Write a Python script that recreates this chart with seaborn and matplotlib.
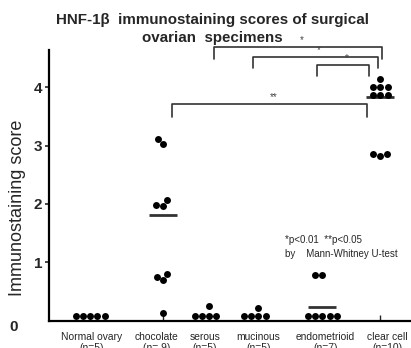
import numpy as np
import pandas as pd
import matplotlib
matplotlib.use("Agg")
import matplotlib.pyplot as plt
import matplotlib.transforms as mtransforms
import seaborn as sns

# groups and their scores
groups = ["Normal ovary", "chocolate", "serous", "mucinous", "endometrioid", "clear cell"]
n_labels = ["(n=5)", "(n= 9)", "(n=5)", "(n=5)", "(n=7)", "(n=10)"]
normal = [0.07, 0.07, 0.07, 0.07, 0.07]
chocolate = [3.11, 3.03, 2.07, 1.98, 1.97, 0.80, 0.75, 0.70, 0.13]
serous = [0.08, 0.08, 0.08, 0.08, 0.25]
mucinous = [0.08, 0.08, 0.08, 0.08, 0.21]
endometrioid = [0.07, 0.07, 0.07, 0.07, 0.07, 0.78, 0.78]
clear_cell = [4.14, 4.0, 4.0, 4.0, 3.87, 3.87, 3.87, 2.85, 2.85, 2.83]
# horizontal bars drawn in the original
bar_groups = ["chocolate", "endometrioid", "clear cell"]
bar_values = [1.81, 0.23, 3.83]
# significance brackets: (left group, right group, label)
comparisons = [("serous", "clear cell", "*"),
               ("mucinous", "clear cell", "*"),
               ("endometrioid", "clear cell", "*"),
               ("chocolate", "clear cell", "**")]

# layout
group_x = [0, 1.26, 2.05, 2.9, 4.0, 5.0]
label_x = [0.03, 1.14, 1.98, 2.9, 4.05, 5.12]
bracket_top = [4.69, 4.52, 4.38, 3.71]
bracket_leg = [0.21, 0.19, 0.19, 0.21]
bracket_shift = [(0.09, 0.03), (-0.1, -0.04), (-0.09, -0.19), (0.15, -0.22)]

scores = [normal, chocolate, serous, mucinous, endometrioid, clear_cell]
rows = []
for g, x, vals in zip(groups, group_x, scores):
    for v in vals:
        rows.append({"group": g, "x": x, "score": v})
df = pd.DataFrame(rows)
pos = dict(zip(groups, group_x))

sns.set_style("ticks")
plt.rcParams["font.family"] = ["Liberation Sans", "DejaVu Sans"]

fig = plt.figure(figsize=(4.11, 3.48), dpi=100)
ax = fig.add_axes([0.1192, 0.079, 0.8808, 0.777])

sns.swarmplot(data=df, x="x", y="score", native_scale=True, orient="x",
              color="black", size=5, linewidth=0, ax=ax, warn_thresh=1)

for g, m in zip(bar_groups, bar_values):
    ax.hlines(m, pos[g] - 0.24, pos[g] + 0.24, color="#333333", lw=2)

# brackets
for (a, b, lab), top, leg, (da, db) in zip(comparisons, bracket_top, bracket_leg, bracket_shift):
    xa, xb = pos[a] + da, pos[b] + db
    ax.plot([xa, xa, xb, xb], [top - leg, top, top, top - leg],
            color="#333333", lw=1.2, clip_on=False)
    ax.text((xa + xb) / 2 + 0.06, top + 0.03, lab, ha="center", va="bottom",
            fontsize=7, color="#444444", clip_on=False)

ax.set_xlim(-0.71, 5.53)
ax.set_ylim(0, 4.64)

ax.set_xticks(label_x)
ax.set_xticklabels([f"{g}\n{n}" for g, n in zip(groups, n_labels)], fontsize=7.4)
ax.tick_params(axis="x", length=0, pad=8)
ax.set_xticks(group_x, minor=True)
ax.tick_params(axis="x", which="minor", direction="in", length=4, width=1)

ax.set_yticks([1, 2, 3, 4])
ax.set_yticklabels(["1", "2", "3", "4"], fontsize=11, fontweight="bold")
ax.tick_params(axis="y", length=3, width=1.2, pad=2)
trans = mtransforms.blended_transform_factory(ax.transAxes, ax.transData)
ax.text(-0.097, -0.11, "0", transform=trans, ha="center", va="center",
        fontsize=11, fontweight="bold", clip_on=False)

ax.set_xlabel("")
ax.set_ylabel("")
sns.despine(ax=ax)
for s in ["left", "bottom"]:
    ax.spines[s].set_linewidth(1.6)
    ax.spines[s].set_color("black")

fig.text(18 / 411, 1 - 208 / 348, "Immunostaining score", rotation=90,
         ha="center", va="center", fontsize=13)
fig.text(212 / 411, 1 - 29 / 348, "HNF-1\u03b2  immunostaining scores of surgical\novarian  specimens",
         ha="center", va="center", fontsize=10.9, fontweight="bold", linespacing=1.42)

ax.text(0.653, 0.272, "*p<0.01  **p<0.05\nby    Mann-Whitney U-test", transform=ax.transAxes,
        ha="left", va="center", fontsize=7, linespacing=1.5)

fig.savefig("out.png", dpi=100)
